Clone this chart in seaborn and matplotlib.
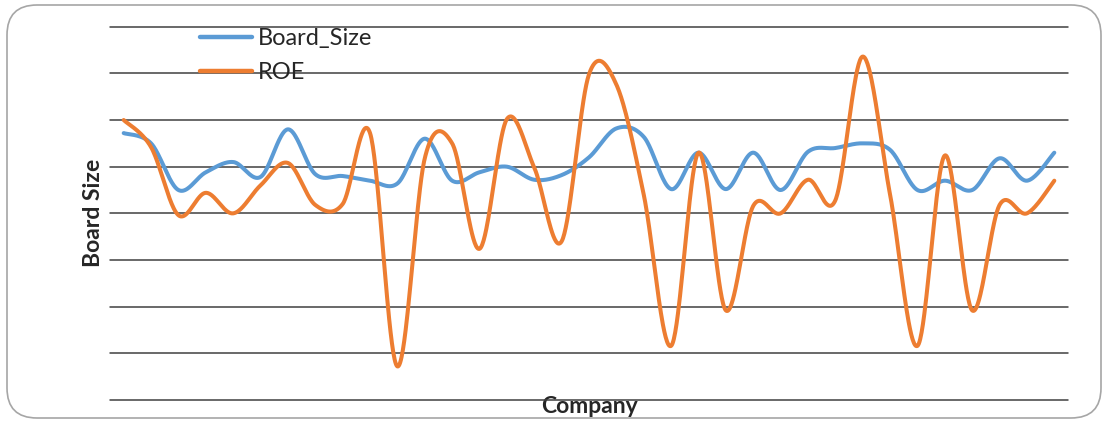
import numpy as np
import pandas as pd
import matplotlib
matplotlib.use("Agg")
import matplotlib.pyplot as plt
import seaborn as sns
from matplotlib.patches import FancyBboxPatch

# ---- data -------------------------------------------------------------
companies = list(range(1, 36))

board_size = [8.6, 7.5, 2.5, 4.4, 5.5, 3.9, 9.0, 4.2, 4.0, 3.5,
              3.2, 8.0, 3.5, 4.4, 5.0, 3.6, 4.1, 6.0, 9.1, 8.2,
              2.6, 6.5, 2.6, 6.5, 2.5, 6.6, 7.0, 7.5, 6.8, 2.5,
              3.5, 2.5, 5.9, 3.5, 6.5]

roe = [10.0, 7.1, -0.2, 2.2, 0.0, 3.0, 5.4, 0.9, 1.0, 8.6,
       -16.4, 5.9, 7.5, -3.8, 10.1, 4.9, -3.0, 14.9, 13.8, 2.0,
       -14.2, 6.5, -10.4, 0.8, 0.0, 3.6, 1.4, 16.8, 2.0, -14.2,
       6.2, -10.4, 0.9, 0.0, 3.5]

series_names = ["Board_Size", "ROE"]
y_ticks = [-20, -15, -10, -5, 0, 5, 10, 15, 20]


def smooth(x, y, n=40):
    """Bezier smoothing through every point (office-style smoothed line)."""
    x = np.asarray(x, float)
    y = np.asarray(y, float)
    px = np.concatenate([[x[0]], x, [x[-1]]])
    py = np.concatenate([[y[0]], y, [y[-1]]])
    t = np.linspace(0, 1, n, endpoint=False)[:, None]
    xs, ys = [], []
    for i in range(1, len(px) - 2):
        p0 = np.array([px[i - 1], py[i - 1]])
        p1 = np.array([px[i], py[i]])
        p2 = np.array([px[i + 1], py[i + 1]])
        p3 = np.array([px[i + 2], py[i + 2]])
        c1 = p1 + (p2 - p0) / 6.0
        c2 = p2 - (p3 - p1) / 6.0
        b = ((1 - t) ** 3) * p1 + 3 * ((1 - t) ** 2) * t * c1 \
            + 3 * (1 - t) * t ** 2 * c2 + t ** 3 * p2
        xs.append(b[:, 0])
        ys.append(b[:, 1])
    xs.append([x[-1]])
    ys.append([y[-1]])
    return np.concatenate(xs), np.concatenate(ys)


frames = []
for name, vals in zip(series_names, [board_size, roe]):
    sx, sy = smooth(companies, vals)
    frames.append(pd.DataFrame({"Company": sx, "Value": sy, "Series": name}))
df = pd.concat(frames, ignore_index=True)

# ---- figure -----------------------------------------------------------
sns.set_theme(style="white")
plt.rcParams["font.family"] = ["Lato", "DejaVu Sans"]

fig = plt.figure(figsize=(11.04, 4.21), dpi=100)

# rounded chart frame
frame_ax = fig.add_axes([0, 0, 1, 1], zorder=-5)
frame_ax.set_xlim(0, 1104)
frame_ax.set_ylim(421, 0)
frame_ax.axis("off")
frame_ax.add_patch(FancyBboxPatch((7, 5), 1094, 413,
                                  boxstyle="round,pad=0,rounding_size=30",
                                  fill=False, edgecolor="#a6a6a6", linewidth=1.2))

ax = fig.add_axes([110 / 1104, 21 / 421, 958 / 1104, 373.3 / 421])
ax.patch.set_alpha(0)

palette = {"Board_Size": "#5B9BD5", "ROE": "#ED7D31"}
sns.lineplot(data=df, x="Company", y="Value", hue="Series", palette=palette,
             sort=False, estimator=None, linewidth=2.9, ax=ax,
             solid_capstyle="round")

ax.set_xlim(0.5, 35.5)
ax.set_ylim(-20, 20)
ax.set_yticks(y_ticks)
ax.set_yticklabels([])
ax.set_xticks([])
ax.tick_params(length=0)
ax.grid(axis="y", color="#404040", linewidth=1.1)
ax.grid(axis="x", visible=False)
ax.set_axisbelow(True)
for gl in ax.yaxis.get_gridlines():
    gl.set_clip_on(False)
for s in ax.spines.values():
    s.set_visible(False)

ax.set_ylabel("Board Size", fontsize=16.5, fontweight="bold", labelpad=1)
ax.set_xlabel("Company", fontsize=16.5, fontweight="bold", labelpad=-3)

leg = ax.legend(loc="upper left", bbox_to_anchor=(200 / 1104, 393 / 421),
                bbox_transform=fig.transFigure, frameon=False, fontsize=17,
                handlelength=2.2, handletextpad=0.25, labelspacing=0.55,
                borderpad=0, borderaxespad=0, title=None)
for h in leg.get_lines():
    h.set_linewidth(3.2)

fig.savefig("out.png", dpi=100)
